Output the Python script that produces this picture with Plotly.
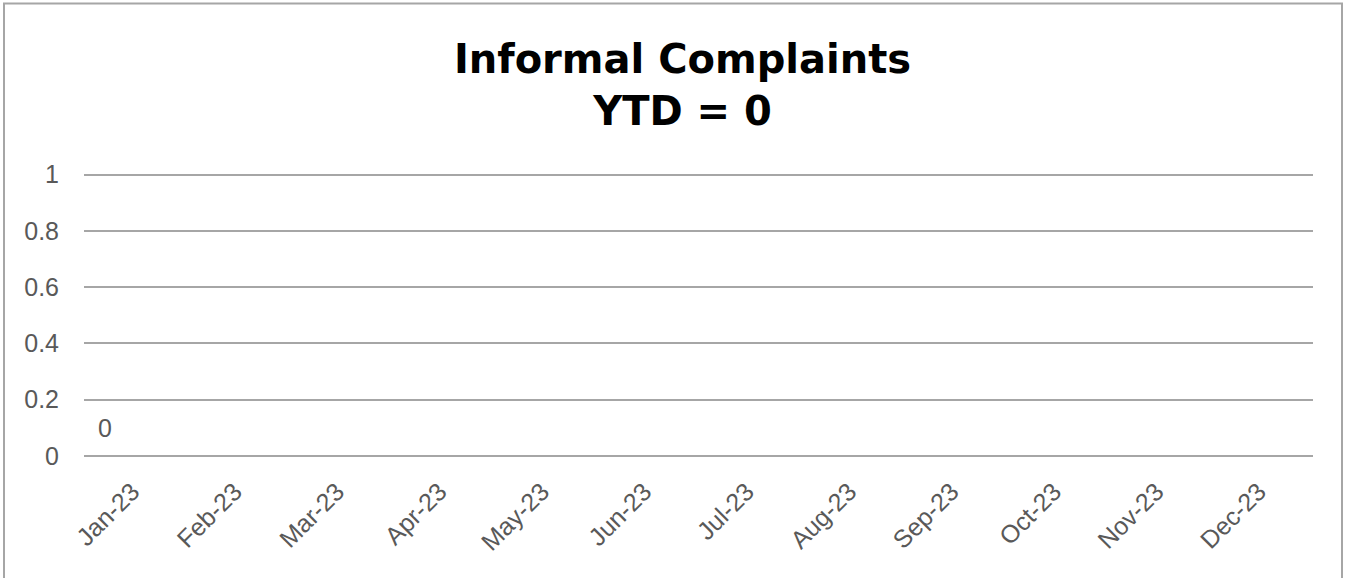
import plotly.graph_objects as go

months = ["Jan-23", "Feb-23", "Mar-23", "Apr-23", "May-23", "Jun-23",
          "Jul-23", "Aug-23", "Sep-23", "Oct-23", "Nov-23", "Dec-23"]
label_month = ["Jan-23"]
label_value = [0]
y_ticks = [0, 0.2, 0.4, 0.6, 0.8, 1]
title_text = "Informal Complaints<br>YTD = 0"

FONT = "'Liberation Sans', Arial, sans-serif"
TITLE_FONT = "'DejaVu Sans', sans-serif"
GRAY_TXT = "#595959"
GRID = "#a6a6a6"

W, H = 1346, 578
Y_TOP = 1.02
L, R, T, B = 84, 33, 169, 122
PW, PH = W - L - R, H - T - B

fig = go.Figure()
# empty series spanning all months so the category axis shows every month
fig.add_trace(go.Scatter(x=months, y=[None] * len(months), mode="lines",
                         showlegend=False, hoverinfo="skip"))

for m, v in zip(label_month, label_value):
    fig.add_annotation(x=m, y=v, text=str(v), showarrow=False,
                       xanchor="center", yanchor="middle",
                       xshift=-30, yshift=28,
                       font=dict(family=FONT, size=25, color=GRAY_TXT))

fig.update_layout(
    width=W, height=H,
    margin=dict(l=L, r=R, t=T, b=B),
    paper_bgcolor="white", plot_bgcolor="white",
    title=dict(text=title_text, x=682.5 / W, xanchor="center",
               y=1 - 73 / H, yanchor="middle",
               font=dict(family=TITLE_FONT, size=40, color="black", weight="bold")),
    font=dict(family=FONT, size=25, color=GRAY_TXT),
    xaxis=dict(type="category", categoryorder="array", categoryarray=months,
               range=[-0.5, len(months) - 0.5],
               tickangle=-45, showgrid=False, zeroline=False, showline=False,
               automargin=False,
               ticks="outside", ticklen=10, tickcolor="rgba(0,0,0,0)",
               ticklabelshift=-3,
               tickfont=dict(family=FONT, size=25, color=GRAY_TXT)),
    yaxis=dict(range=[0, Y_TOP], tickvals=y_ticks, ticktext=[f"{t:g}" for t in y_ticks],
               showgrid=True, gridcolor=GRID, gridwidth=1.5,
               zeroline=True, zerolinecolor=GRID, zerolinewidth=1.5,
               showline=False, automargin=False,
               ticks="outside", ticklen=19,
               tickcolor="rgba(0,0,0,0)",
               tickfont=dict(family=FONT, size=25, color=GRAY_TXT)),
    shapes=[dict(type="rect", xref="paper", yref="paper",
                 x0=(4 - L) / PW, x1=(1342 - L) / PW,
                 y0=-(600 - (H - B)) / PH, y1=(H - B - 3.5) / PH,
                 line=dict(color=GRID, width=2), layer="below")],
)

fig.write_html("out.html", config={"displayModeBar": False},
               post_script="document.body.style.margin='0';")
